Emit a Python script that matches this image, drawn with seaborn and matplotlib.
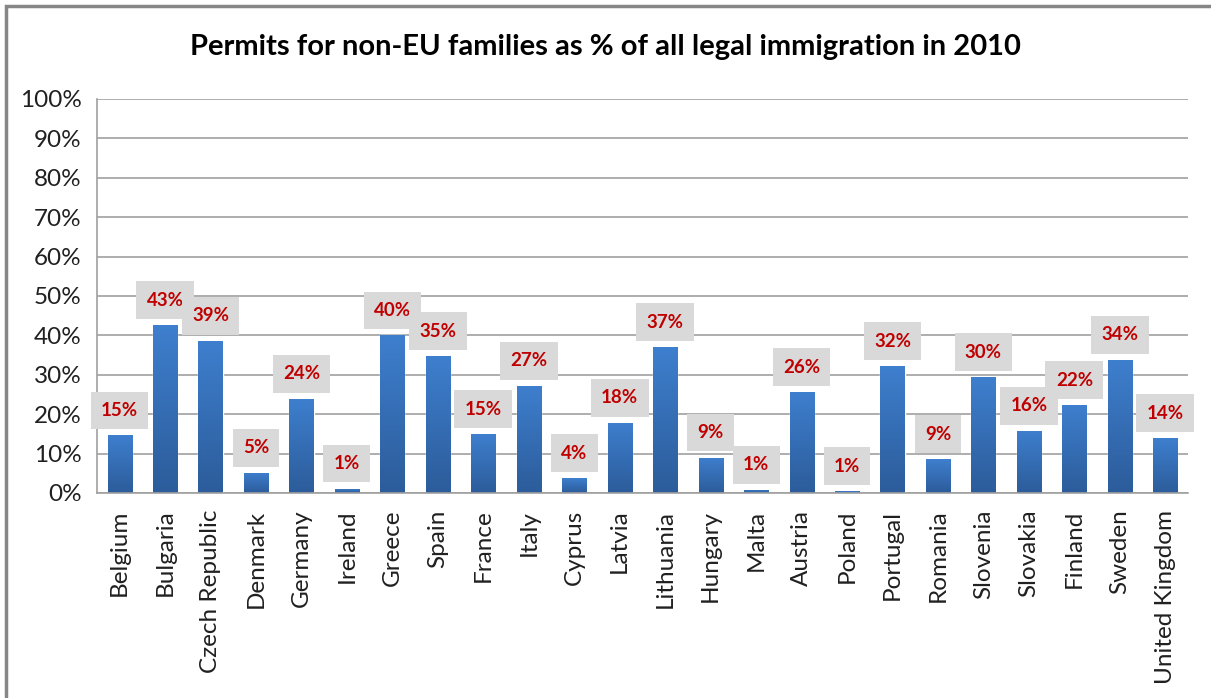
import numpy as np
import pandas as pd
import seaborn as sns
import matplotlib.pyplot as plt
from matplotlib.patches import Rectangle
from matplotlib.colors import LinearSegmentedColormap

countries = ['Belgium', 'Bulgaria', 'Czech Republic', 'Denmark', 'Germany', 'Ireland',
             'Greece', 'Spain', 'France', 'Italy', 'Cyprus', 'Latvia', 'Lithuania',
             'Hungary', 'Malta', 'Austria', 'Poland', 'Portugal', 'Romania', 'Slovenia',
             'Slovakia', 'Finland', 'Sweden', 'United Kingdom']
values = [14.6, 42.6, 38.6, 5.1, 23.9, 1.1, 40.0, 34.7, 14.9, 27.2, 3.8, 17.8, 37.0,
          9.0, 0.8, 25.6, 0.5, 32.2, 8.6, 29.4, 15.8, 22.3, 33.8, 13.9]
labels = ['15%', '43%', '39%', '5%', '24%', '1%', '40%', '35%', '15%', '27%', '4%', '18%',
          '37%', '9%', '1%', '26%', '1%', '32%', '9%', '30%', '16%', '22%', '34%', '14%']
yticks = [0, 10, 20, 30, 40, 50, 60, 70, 80, 90, 100]

df = pd.DataFrame({'country': countries, 'value': values})

sns.set_style("white")
plt.rcParams['font.family'] = ['Lato', 'DejaVu Sans']

fig = plt.figure(figsize=(12.11, 6.98), dpi=100)
ax = fig.add_axes([0.080, 0.2937, 0.901, 0.5645])

sns.barplot(data=df, x='country', y='value', color='#3A73BD', width=0.53, ax=ax,
            saturation=1)

# gradient fill on each bar
cmap = LinearSegmentedColormap.from_list('bars', ['#2C5C9A', '#3E7FCE'])
grad = np.linspace(0, 1, 256).reshape(-1, 1)
for p in ax.patches:
    x0, y0 = p.get_x(), p.get_y()
    w, h = p.get_width(), p.get_height()
    im = ax.imshow(grad, cmap=cmap, origin='lower', aspect='auto',
                   extent=[x0, x0 + w, y0, y0 + h], zorder=p.get_zorder() + 0.1)
    im.set_clip_path(p)

for i, (v, lab) in enumerate(zip(values, labels)):
    ax.annotate(lab, (i, v), xytext=(0, 18), textcoords='offset points',
                ha='center', va='center', fontsize=13.5, fontweight='bold',
                color='#C00000', zorder=5,
                bbox=dict(boxstyle='square,pad=0.55', fc='#D9D9D9', ec='none'))

ax.set_xlim(-0.5, len(countries) - 0.5)
ax.set_ylim(0, 100)
ax.set_yticks(yticks)
ax.set_yticklabels([f'{t}%' for t in yticks])
ax.yaxis.grid(True, color='#A0A0A0', linewidth=1.2)
ax.set_axisbelow(True)
ax.tick_params(axis='both', length=0, labelsize=17.5, colors='#202020')
ax.tick_params(axis='y', pad=11)
ax.tick_params(axis='x', pad=12)
plt.setp(ax.get_xticklabels(), rotation=90)
ax.set_xlabel('')
ax.set_ylabel('')
for side in ['top', 'right']:
    ax.spines[side].set_visible(False)
for side in ['left', 'bottom']:
    ax.spines[side].set_color('#A0A0A0')
    ax.spines[side].set_linewidth(1.2)

fig.text(0.5, 0.933, 'Permits for non-EU families as % of all legal immigration in 2010',
         ha='center', va='center', fontsize=21, fontweight='bold', color='#000000')

# chart area border
fig.patches.append(Rectangle((6 / 1211, -0.1), 1.2, 1.1 - 6 / 698, transform=fig.transFigure,
                             fill=False, ec='#868686', lw=2.5, zorder=0))

fig.savefig('out.png', dpi=100)
